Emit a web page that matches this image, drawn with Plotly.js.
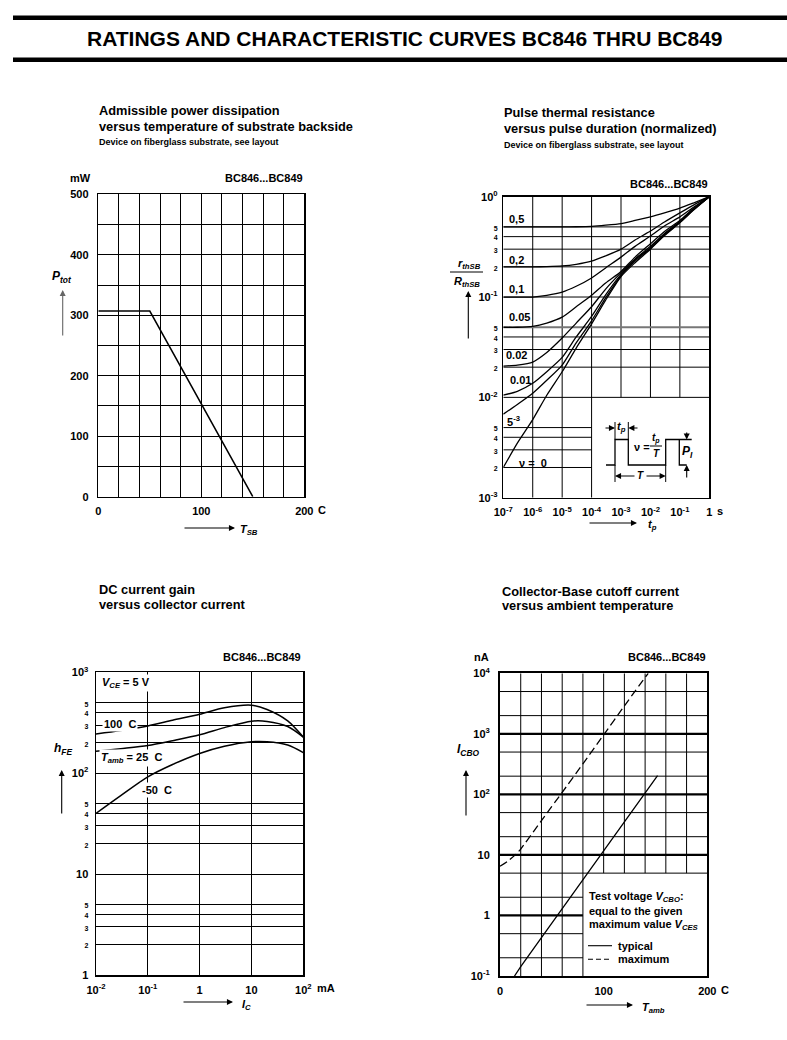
<!DOCTYPE html>
<html><head><meta charset="utf-8">
<script src="https://cdn.plot.ly/plotly-3.0.1.min.js"></script>
<style>html,body{margin:0;padding:0;background:#fff}</style>
</head><body><div id="chart" style="width:787px;height:1040px"></div>
<script>
// ================= DATA =================
// Chart 1: admissible power dissipation vs substrate temperature
const tsb = [0, 50, 150];            // C
const ptot = [307, 307, 0];          // mW

// Chart 2: pulse thermal resistance (normalized) vs pulse duration
const tp = [1e-7,3e-7,1e-6,3e-6,1e-5,3e-5,1e-4,3e-4,1e-3,3e-3,1e-2,3e-2,1e-1,3e-1,1];
const r05   = [0.5,0.5,0.5,0.5,0.5,0.502,0.507,0.52,0.54,0.58,0.63,0.69,0.77,0.87,1];
const r02   = [0.2,0.2,0.2,0.201,0.204,0.212,0.228,0.257,0.30,0.37,0.455,0.56,0.69,0.83,1];
const r01   = [0.1,0.1,0.1,0.104,0.112,0.128,0.155,0.195,0.25,0.32,0.405,0.51,0.63,0.79,1];
const r005  = [0.05,0.05,0.051,0.055,0.063,0.08,0.104,0.138,0.18,0.25,0.34,0.45,0.58,0.77,1];
const r002  = [0.0205,0.021,0.0225,0.028,0.039,0.055,0.08,0.12,0.175,0.24,0.32,0.43,0.565,0.76,1];
const r001  = [0.0105,0.0115,0.0138,0.018,0.025,0.04,0.064,0.105,0.168,0.235,0.31,0.42,0.56,0.755,1];
const r0005 = [0.0068,0.0085,0.011,0.0148,0.021,0.035,0.058,0.098,0.163,0.228,0.305,0.415,0.555,0.75,1];
const r0    = [0.002,0.0035,0.006,0.0105,0.018,0.031,0.054,0.093,0.16,0.22,0.30,0.41,0.55,0.74,1];
const dutyLabels = ['0,5','0,2','0,1','0.05','0.02','0.01','5<sup>-3</sup>','\u03bd =  0'];

// Chart 3: DC current gain vs collector current (mA)
const ic = [0.01,0.03,0.1,0.3,1,3,10,20,50,100];
const hfe100 = [245,265,294,335,384,445,472,428,330,228];
const hfe25  = [165,175,188,210,240,283,328,326,290,228];
const hfeM50 = [40,60,92,122,157,185,205,205,190,160];

// Chart 4: collector-base cutoff current vs ambient temperature
const tTyp = [14,20,40,60,80,100,120,140,152];
const icboTyp = [0.1,0.143,0.43,1.3,3.9,11.7,35,105,205];
const tMax = [0,8,16,20,40,60,80,100,120,143];
const icboMax = [6.5,8,10.5,12.5,37,108,320,960,2900,10000];

// Tick / grid values
const x1Ticks = [0,100,200];
const x1Text  = ['0','100','200'];
const y1Ticks = [0,100,200,300,400,500];
const y1Text  = ['0','100','200','300','400','500'];

const x2Ticks = [1e-7,1e-6,1e-5,1e-4,1e-3,1e-2,1e-1,1];
const x2Text  = ['10<sup>-7</sup>','10<sup>-6</sup>','10<sup>-5</sup>','10<sup>-4</sup>','10<sup>-3</sup>','10<sup>-2</sup>','10<sup>-1</sup>','1'];
const y2Ticks = [0.001,0.002,0.003,0.004,0.005,0.01,0.02,0.03,0.04,0.05,0.1,0.2,0.3,0.4,0.5,1];
const y2Major = {0.001:'10<sup>-3</sup>',0.01:'10<sup>-2</sup>',0.1:'10<sup>-1</sup>',1:'10<sup>0</sup>'};
const y2Minor = ['2','3','4','5','2','3','4','5','2','3','4','5'];
const g2VFull = [1e-6,1e-5,1e-4];
const g2VUpper = [1e-3,1e-2,1e-1];
const g2HFull = [0.5,0.4,0.3,0.2,0.1,0.04,0.03,0.02,0.01];
const g2HGray = [0.05];
const g2HLower = [0.005,0.004,0.003,0.002];

const x3Ticks = [0.01,0.1,1,10,100];
const x3Text  = ['10<sup>-2</sup>','10<sup>-1</sup>','1','10','10<sup>2</sup>'];
const y3Ticks = [1,2,3,4,5,10,20,30,40,50,100,200,300,400,500,1000];
const y3Major = {1:'1',10:'10',100:'10<sup>2</sup>',1000:'10<sup>3</sup>'};

const x4Ticks = [0,100,200];
const x4Text  = ['0','100','200'];
const y4Ticks = [0.1,1,10,100,1000,10000];
const y4Text  = ['10<sup>-1</sup>','1','10','10<sup>2</sup>','10<sup>3</sup>','10<sup>4</sup>'];
const g4VFull = [20,40,60,80];
const g4VUpper = [100,120,140,160,180];
const g4HMajor = [1000,100,10];
const g4HMajorLeft = [1];
const g4HMinor = [5000,2000,500,200,50,20,5];
const g4HMinorLeft = [2,0.5,0.2];

// ================= HELPERS =================
const W = 787, H = 1040;
const X = px => px / W, Y = py => 1 - py / H;
const FONT = 'Liberation Sans, Arial, Helvetica, sans-serif';
const f = (s) => ({family: FONT, size: s, color: '#000', weight: 'bold'});
function txt(px, py, text, size, opt) {
  return Object.assign({xref:'paper', yref:'paper', x:X(px), y:Y(py), text:text, showarrow:false,
    xanchor:'center', yanchor:'middle', font:f(size || 11)}, opt || {});
}
function arrow(hx, hy, tx, ty, color) {
  return {xref:'paper', yref:'paper', x:X(hx), y:Y(hy), ax:tx-hx, ay:ty-hy, text:'', showarrow:true,
    arrowhead:2, arrowsize:1.1, arrowwidth:1.1, arrowcolor:color || '#000'};
}
function hGrid(vals, x0, x1) { const x=[], y=[]; vals.forEach(v => { x.push(x0, x1, null); y.push(v, v, null); }); return {x, y}; }
function vGrid(vals, y0, y1) { const x=[], y=[]; vals.forEach(v => { x.push(v, v, null); y.push(y0, y1, null); }); return {x, y}; }
function gridTrace(g, xa, ya, width, color) {
  return {x:g.x, y:g.y, xaxis:xa, yaxis:ya, mode:'lines', line:{color:color || '#000', width:width || 1},
    hoverinfo:'skip', connectgaps:false};
}
function curve(x, y, xa, ya, opt) {
  return Object.assign({x:x, y:y, xaxis:xa, yaxis:ya, mode:'lines', hoverinfo:'skip',
    line:{color:'#000', width:1.4}}, opt || {});
}
const small = s => '<span style="font-size:7px">' + s + '</span>';
function poly(pts) { return pts.map((p, i) => (i ? 'L' : 'M') + X(p[0]).toFixed(5) + ',' + Y(p[1]).toFixed(5)).join(' '); }
function pline(pts, w, dash) { return {type:'path', xref:'paper', yref:'paper', path:poly(pts), line:{color:'#000', width:w || 1, dash:dash || 'solid'}}; }

// ================= TRACES =================
const traces = [];
// chart 1
traces.push(curve(tsb, ptot, 'x', 'y', {line:{color:'#000', width:1.5}}));
// chart 2 grid
traces.push(gridTrace(vGrid(g2VFull, 1e-3, 1), 'x2', 'y2'));
traces.push(gridTrace(vGrid(g2VUpper, 1e-2, 1), 'x2', 'y2'));
traces.push(gridTrace(hGrid(g2HFull, 1e-7, 1), 'x2', 'y2'));
traces.push(gridTrace(hGrid(g2HGray, 1e-7, 1), 'x2', 'y2', 2, '#777'));
traces.push(gridTrace(hGrid(g2HLower, 1e-7, 1e-4), 'x2', 'y2'));
[r05, r02, r01, r005, r002, r001, r0005, r0].forEach(r => {
  traces.push(curve(tp, r, 'x2', 'y2', {line:{color:'#000', width:1.3, shape:'spline', smoothing:0.6}}));
});
// chart 3
[hfe100, hfe25, hfeM50].forEach(h => {
  traces.push(curve(ic, h, 'x3', 'y3', {line:{color:'#000', width:1.5, shape:'spline', smoothing:0.8}}));
});
// chart 4 grid
traces.push(gridTrace(vGrid(g4VFull, 0.1, 10000), 'x4', 'y4'));
traces.push(gridTrace(vGrid(g4VUpper, 5, 10000), 'x4', 'y4'));
traces.push(gridTrace(hGrid(g4HMajor, 0, 200), 'x4', 'y4', 2.2));
traces.push(gridTrace(hGrid(g4HMajorLeft, 0, 80), 'x4', 'y4', 2.2));
traces.push(gridTrace(hGrid(g4HMinor, 0, 200), 'x4', 'y4'));
traces.push(gridTrace(hGrid(g4HMinorLeft, 0, 80), 'x4', 'y4'));
traces.push(curve(tTyp, icboTyp, 'x4', 'y4', {line:{color:'#000', width:1.3}}));
traces.push(curve(tMax, icboMax, 'x4', 'y4', {line:{color:'#000', width:1.3, dash:'8px,4px', shape:'spline', smoothing:0.6}}));

// ================= AXES =================
const base = {showline:true, mirror:true, linecolor:'#000', linewidth:1.5, ticks:'', zeroline:false,
  showgrid:true, gridcolor:'#000', gridwidth:1, tickfont:f(11), fixedrange:true};
const ax = (o) => Object.assign({}, base, o);

const layout = {
  width:W, height:H, margin:{l:0, r:0, t:0, b:0}, paper_bgcolor:'#fff', plot_bgcolor:'rgba(0,0,0,0)',
  showlegend:false, hovermode:false, font:f(11),
  xaxis:ax({domain:[X(98.3), X(304.3)], range:[0,200], anchor:'y', tickmode:'array', tickvals:x1Ticks, ticktext:x1Text, ticklabelstandoff:4,
    minor:{dtick:20, tick0:0, showgrid:true, gridcolor:'#000', gridwidth:1, ticks:''}}),
  yaxis:ax({domain:[Y(496.7), Y(194.3)], range:[0,500], anchor:'x', tickmode:'array', tickvals:y1Ticks, ticktext:y1Text, ticklabelstandoff:6,
    minor:{dtick:50, tick0:0, showgrid:true, gridcolor:'#000', gridwidth:1, ticks:''}}),
  xaxis2:ax({domain:[X(503.3), X(709.3)], type:'log', range:[-7,0], anchor:'y2', showgrid:false, tickmode:'array', tickvals:x2Ticks, ticktext:x2Text, ticklabelstandoff:4}),
  yaxis2:ax({domain:[Y(497.7), Y(196.7)], type:'log', range:[-3,0], anchor:'x2', showgrid:false, tickmode:'array', tickvals:y2Ticks,
    ticktext:(() => { let k = 0; return y2Ticks.map(v => y2Major[v] !== undefined ? y2Major[v] : small(y2Minor[k++])); })(), ticklabelstandoff:2}),
  xaxis3:ax({domain:[X(96), X(303.3)], type:'log', range:[-2,2], anchor:'y3', tickmode:'array', tickvals:x3Ticks, ticktext:x3Text, ticklabelstandoff:4}),
  yaxis3:ax({domain:[Y(975), Y(672.3)], type:'log', range:[0,3], anchor:'x3', tickmode:'array', tickvals:y3Ticks,
    ticktext:y3Ticks.map(v => y3Major[v] !== undefined ? y3Major[v] : small(String(v).charAt(0))), ticklabelstandoff:4}),
  xaxis4:ax({domain:[X(500), X(707.3)], range:[0,200], anchor:'y4', showgrid:false, linewidth:2, tickmode:'array', tickvals:x4Ticks, ticktext:x4Text, ticklabelstandoff:4}),
  yaxis4:ax({domain:[Y(976), Y(673.3)], type:'log', range:[-1,4], anchor:'x4', showgrid:false, linewidth:2, tickmode:'array', tickvals:y4Ticks, ticktext:y4Text, ticklabelstandoff:6}),
};

// ================= SHAPES =================
const shapes = [
  {type:'line', xref:'paper', yref:'paper', x0:X(13), x1:1, y0:Y(17.8), y1:Y(17.8), line:{color:'#000', width:4.5}},
  {type:'line', xref:'paper', yref:'paper', x0:X(13), x1:1, y0:Y(59.8), y1:Y(59.8), line:{color:'#000', width:4.5}},
  // chart 2 y-label fraction bar
  {type:'line', xref:'paper', yref:'paper', x0:X(450), x1:X(483), y0:Y(272), y1:Y(272), line:{color:'#000', width:1}},
  // pulse diagram
  pline([[606,465],[615,465],[615,439.5],[628.3,439.5],[628.3,465],[665.7,465],[665.7,439.5],[691.7,439.5]], 1.3),
  pline([[679.3,439.5],[679.3,465],[686.7,465]], 1.3),
  pline([[615,422],[615,439.5]], 1), pline([[628.3,422],[628.3,439.5]], 1),
  pline([[615,465],[615,482]], 1), pline([[665.7,465],[665.7,482]], 1),
  // nu = tp/T fraction bar
  pline([[650,446],[662,446]], 1),
  // chart 4 legend samples
  pline([[588,945.7],[612,945.7]], 1.1),
  pline([[588,959.3],[612,959.3]], 1.1, '5px,3px'),
];

// ================= ANNOTATIONS =================
const ann = [
  txt(405, 38.5, 'RATINGS AND CHARACTERISTIC CURVES BC846 THRU BC849', 21),
  // chart 1
  txt(97, 111, 'Admissible power dissipation', 12.8, {xanchor:'left'}),
  txt(97, 126, 'versus temperature of substrate backside', 12.8, {xanchor:'left'}),
  txt(97, 142, 'Device on fiberglass substrate, see layout', 9, {xanchor:'left'}),
  txt(80, 178, 'mW', 11),
  txt(305, 178, 'BC846...BC849', 11, {xanchor:'right'}),
  txt(62, 277, '<i>P</i><sub><i>tot</i></sub>', 12),
  arrow(62.7, 290, 62.7, 337, '#666'),
  txt(321.7, 510, 'C', 11),
  arrow(235, 528, 183, 528),
  txt(238, 530, '<i>T</i><sub><i>SB</i></sub>', 11, {xanchor:'left'}),
  // chart 2
  txt(502, 112, 'Pulse thermal resistance', 12.8, {xanchor:'left'}),
  txt(502, 128, 'versus pulse duration (normalized)', 12.8, {xanchor:'left'}),
  txt(502, 145, 'Device on fiberglass substrate, see layout', 9, {xanchor:'left'}),
  txt(710, 184, 'BC846...BC849', 11, {xanchor:'right'}),
  txt(470, 264, '<i>r</i><sub><i>thSB</i></sub>', 11),
  txt(467, 282, '<i>R</i><sub><i>thSB</i></sub>', 11),
  arrow(468.3, 291, 468.3, 340),
  txt(720, 511, 's', 11),
  arrow(637, 523, 588, 523),
  txt(646, 525, '<i>t</i><sub><i>p</i></sub>', 11, {xanchor:'left'}),
  txt(507, 218.7, dutyLabels[0], 11, {xanchor:'left'}),
  txt(507, 260.3, dutyLabels[1], 11, {xanchor:'left'}),
  txt(507, 289.3, dutyLabels[2], 11, {xanchor:'left'}),
  txt(507, 317, dutyLabels[3], 11, {xanchor:'left'}),
  txt(504, 355, dutyLabels[4], 11, {xanchor:'left'}),
  txt(508, 380, dutyLabels[5], 11, {xanchor:'left'}),
  txt(505, 421, dutyLabels[6], 11, {xanchor:'left'}),
  txt(533, 462.5, dutyLabels[7], 11),
  // pulse inset labels
  arrow(615, 428, 604, 428), arrow(628.3, 428, 639, 428),
  txt(621.7, 427, '<i>t</i><sub><i>p</i></sub>', 11),
  txt(642, 447, '\u03bd =', 11),
  txt(656, 438.5, '<i>t</i><sub><i>p</i></sub>', 10),
  txt(656, 453, '<i>T</i>', 10),
  arrow(615, 476, 636, 476), arrow(665.7, 476, 645, 476),
  txt(640.5, 476, '<i>T</i>', 10),
  arrow(686.7, 439.5, 686.7, 431), arrow(686.7, 465, 686.7, 479),
  txt(687, 451.5, '<i>P</i><sub><i>I</i></sub>', 12),
  // chart 3
  txt(97, 589, 'DC current gain', 12.8, {xanchor:'left'}),
  txt(97, 604, 'versus collector current', 12.8, {xanchor:'left'}),
  txt(303, 657, 'BC846...BC849', 11, {xanchor:'right'}),
  txt(100, 683, '<i>V</i><sub><i>CE</i></sub> = 5 V', 11, {xanchor:'left', bgcolor:'#fff'}),
  txt(102, 724, '100  C', 11, {xanchor:'left', bgcolor:'#fff'}),
  txt(99, 758, '<i>T</i><sub><i>amb</i></sub> = 25  C', 11, {xanchor:'left', bgcolor:'#fff'}),
  txt(140, 790, '-50  C', 11, {xanchor:'left', bgcolor:'#fff'}),
  txt(63, 749, '<i>h</i><sub><i>FE</i></sub>', 12),
  arrow(61.7, 770, 61.7, 815),
  txt(315, 988, 'mA', 11, {xanchor:'left'}),
  arrow(233, 1002, 182, 1002),
  txt(240, 1005, '<i>I</i><sub><i>C</i></sub>', 11, {xanchor:'left'}),
  // chart 4
  txt(500, 591, 'Collector-Base cutoff current', 12.8, {xanchor:'left'}),
  txt(500, 605, 'versus ambient temperature', 12.8, {xanchor:'left'}),
  txt(481, 657, 'nA', 11),
  txt(708, 657, 'BC846...BC849', 11, {xanchor:'right'}),
  txt(468, 750, '<i>I</i><sub><i>CBO</i></sub>', 12),
  arrow(466, 770, 466, 817),
  txt(725, 990, 'C', 11),
  arrow(633, 1005, 585, 1005),
  txt(640, 1008, '<i>T</i><sub><i>amb</i></sub>', 11, {xanchor:'left'}),
  txt(587, 897, 'Test voltage <i>V</i><sub><i>CBO</i></sub>:', 11, {xanchor:'left'}),
  txt(587, 911, 'equal to the given', 11, {xanchor:'left'}),
  txt(587, 925, 'maximum value <i>V</i><sub><i>CES</i></sub>', 11, {xanchor:'left'}),
  txt(616, 945.7, 'typical', 11, {xanchor:'left'}),
  txt(616, 959.3, 'maximum', 11, {xanchor:'left'}),
];
layout.shapes = shapes;
layout.annotations = ann;

Plotly.newPlot('chart', traces, layout, {staticPlot:true, displayModeBar:false});
</script>
</body></html>
